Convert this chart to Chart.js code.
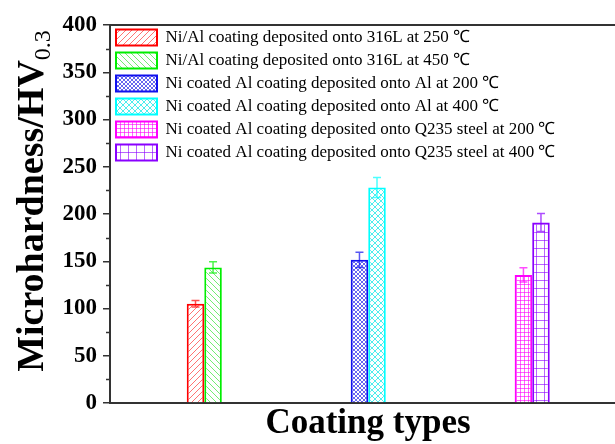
<!DOCTYPE html>
<html>
<head>
<meta charset="utf-8">
<script src="https://cdn.jsdelivr.net/npm/chart.js@4"></script>
<style>
body{margin:0;background:#fff;}
#wrap{width:615px;height:444px;}
</style>
</head>
<body>
<div id="wrap"><canvas id="chart" width="615" height="444"></canvas></div>
<script>
// x positions of the three coating groups
var groupPos=[1,2,3];
var seriesNames=[
  "Ni/Al coating deposited onto 316L at 250 \u2103",
  "Ni/Al coating deposited onto 316L at 450 \u2103",
  "Ni coated Al coating deposited onto Al at 200 \u2103",
  "Ni coated Al coating deposited onto Al at 400 \u2103",
  "Ni coated Al coating deposited onto Q235 steel at 200 \u2103",
  "Ni coated Al coating deposited onto Q235 steel at 400 \u2103"
];
// microhardness values (HV0.3)
var ni316L250=[105,null,null];
var ni316L450=[143.5,null,null];
var al200=[null,151.5,null];
var al400=[null,228,null];
var q235_200=[null,null,135.5];
var q235_400=[null,null,191];
// error bars
var err316L250=[3.5,0,0];
var err316L450=[6,0,0];
var errAl200=[0,8,0];
var errAl400=[0,10.5,0];
var errQ200=[0,0,7.5];
var errQ400=[0,0,9.5];
var yMin=0, yMax=400, yStep=50;
var yMinorTicks=[25,75,125,175,225,275,325,375];

var canvas=document.getElementById("chart");
var mainCtx=canvas.getContext("2d");

//______________________________PATTERNS_______________________________
function makePattern(color,kind,size){
  var c=document.createElement("canvas");
  c.width=size;c.height=size;
  var g=c.getContext("2d");
  g.fillStyle="#fff";g.fillRect(0,0,size,size);
  g.strokeStyle=color;g.lineWidth=1;
  g.beginPath();
  if(kind=="fwd"||kind=="cross"){
    g.moveTo(-1,1);g.lineTo(1,-1);
    g.moveTo(0,size);g.lineTo(size,0);
    g.moveTo(size-1,size+1);g.lineTo(size+1,size-1);
  }
  if(kind=="back"||kind=="cross"){
    g.moveTo(-1,size-1);g.lineTo(1,size+1);
    g.moveTo(0,0);g.lineTo(size,size);
    g.moveTo(size-1,-1);g.lineTo(size+1,1);
  }
  if(kind=="grid"){
    g.moveTo(0.5,0);g.lineTo(0.5,size);
    g.moveTo(0,0.5);g.lineTo(size,0.5);
  }
  g.stroke();
  return mainCtx.createPattern(c,"repeat");
}

//______________________________PLUGINS_______________________________
// legend sits inside the plot, pin it to the top of the chart area
var legendPinPlugin={
  id:"legendPin",
  afterLayout:function(chart){
    var lg=chart.legend;
    if(!lg) return;
    var h=lg.bottom-lg.top;
    lg.top=chart.chartArea.top-2;
    lg.bottom=lg.top+h;
  }
};

var errorBarPlugin={
  id:"errorBars",
  afterDatasetsDraw:function(chart){
    var ctx=chart.ctx, y=chart.scales.y;
    chart.data.datasets.forEach(function(ds,i){
      var meta=chart.getDatasetMeta(i);
      meta.data.forEach(function(bar,j){
        var v=ds.data[j];
        if(v==null) return;
        var e=ds.errors[j];
        var top=y.getPixelForValue(v+e), bot=y.getPixelForValue(v-e);
        ctx.save();
        ctx.strokeStyle=ds.borderColor;
        ctx.globalAlpha=0.7;
        ctx.lineWidth=1.5;
        ctx.beginPath();
        ctx.moveTo(bar.x,top);ctx.lineTo(bar.x,bot);
        ctx.moveTo(bar.x-4,top);ctx.lineTo(bar.x+4,top);
        ctx.moveTo(bar.x-4,bot);ctx.lineTo(bar.x+4,bot);
        ctx.stroke();
        ctx.restore();
      });
    });
  }
};

var framePlugin={
  id:"frame",
  afterDraw:function(chart){
    var ctx=chart.ctx, a=chart.chartArea, y=chart.scales.y;
    ctx.save();
    ctx.strokeStyle="#333";
    ctx.lineWidth=2;
    ctx.beginPath();
    ctx.moveTo(a.left-1,a.top);ctx.lineTo(a.right,a.top);
    ctx.stroke();
    // minor ticks
    ctx.lineWidth=1.5;
    ctx.beginPath();
    yMinorTicks.forEach(function(v){
      var py=Math.round(y.getPixelForValue(v))+0.5;
      ctx.moveTo(a.left-4,py);ctx.lineTo(a.left,py);
    });
    ctx.stroke();
    // x title
    ctx.fillStyle="#000";
    ctx.textAlign="center";
    ctx.textBaseline="alphabetic";
    ctx.font='bold 35px "Liberation Serif"';
    ctx.fillText("Coating types",368,433);
    // y title with subscript
    ctx.textAlign="left";
    ctx.translate(43,201);
    ctx.rotate(-Math.PI/2);
    var main="Microhardness/HV", sub="0.3";
    ctx.font='bold 38px "Liberation Serif"';
    var w1=ctx.measureText(main).width;
    ctx.font='24px "Liberation Serif"';
    var w2=ctx.measureText(sub).width;
    var x0=-(w1+w2)/2;
    ctx.font='bold 38px "Liberation Serif"';
    ctx.fillText(main,x0,0);
    ctx.font='24px "Liberation Serif"';
    ctx.fillText(sub,x0+w1,7);
    ctx.restore();
  }
};

//______________________________CHART_______________________________
function makeSet(i,vals,errs,color,hatchColor,kind,size){
  return {
    label:seriesNames[i],
    data:vals,
    errors:errs,
    borderColor:color,
    borderWidth:2,
    backgroundColor:makePattern(hatchColor,kind,size),
    skipNull:true,
    categoryPercentage:0.214,
    barPercentage:1
  };
}

new Chart(canvas,{
  type:"bar",
  data:{
    labels:groupPos,
    datasets:[
      makeSet(0,ni316L250,err316L250,"#ff0000","rgba(255,0,0,0.55)","fwd",6),
      makeSet(1,ni316L450,err316L450,"#00ee00","rgba(0,220,0,0.55)","back",6),
      makeSet(2,al200,errAl200,"#1010ee","rgba(0,0,230,0.6)","cross",4),
      makeSet(3,al400,errAl400,"#00ffff","rgba(0,230,230,0.7)","cross",6),
      makeSet(4,q235_200,errQ200,"#ff00ff","rgba(255,0,255,0.6)","grid",4),
      makeSet(5,q235_400,errQ400,"#8a00ff","rgba(138,0,255,0.6)","grid",8)
    ]
  },
  options:{
    responsive:false,
    animation:false,
    devicePixelRatio:1,
    layout:{padding:{top:25,left:0,right:0,bottom:0}},
    plugins:{
      legend:{
        position:"chartArea",
        align:"start",
        labels:{
          boxWidth:41,
          boxHeight:16,
          padding:6,
          color:"#000",
          font:{family:"Liberation Serif",size:17}
        }
      },
      tooltip:{enabled:false}
    },
    scales:{
      x:{
        type:"linear",
        min:0.425,
        max:3.505,
        offset:false,
        ticks:{display:false,stepSize:1,includeBounds:false},
        grid:{display:false,drawTicks:false},
        border:{display:true,color:"#333",width:2},
        afterFit:function(s){s.height=41;}
      },
      y:{
        min:yMin,
        max:yMax,
        ticks:{stepSize:yStep,color:"#000",padding:6,
          font:{family:"Liberation Serif",size:23,weight:"bold"}},
        grid:{drawOnChartArea:false,drawTicks:true,tickLength:7,color:"#333",lineWidth:1.5},
        border:{display:true,color:"#333",width:2},
        afterFit:function(s){s.width=110;}
      }
    }
  },
  plugins:[legendPinPlugin,errorBarPlugin,framePlugin]
});
</script>
</body>
</html>
